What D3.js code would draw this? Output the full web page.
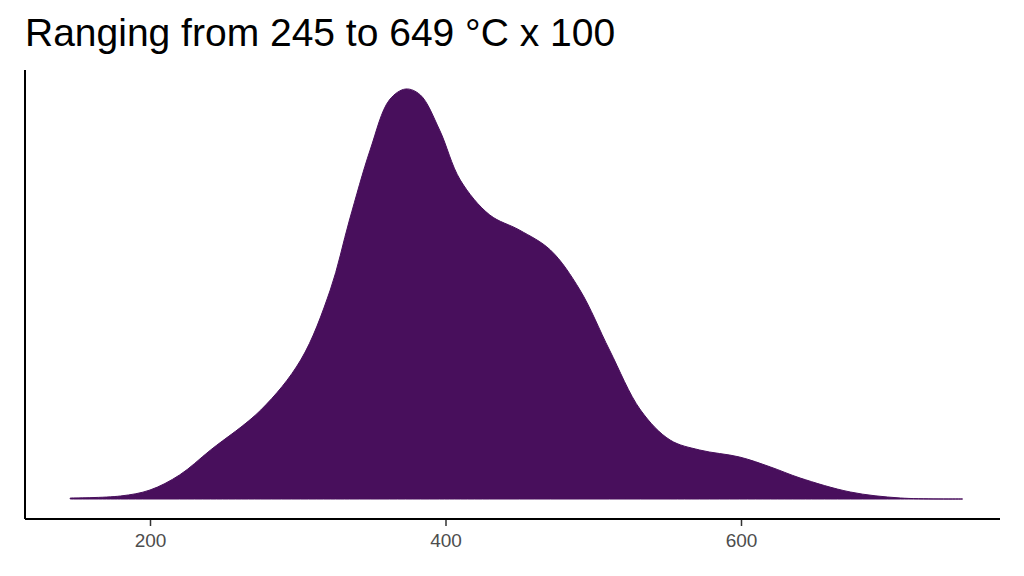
<!DOCTYPE html>
<html>
<head>
<meta charset="utf-8">
<script src="https://d3js.org/d3.v7.min.js"></script>
<style>
  body { margin: 0; background: #fff; }
  text { font-family: "Liberation Sans", Arial, sans-serif; }
</style>
</head>
<body>
<div id="chart"></div>
<script>
// density curve (x in °C x 100, y relative density)
var temps = [146, 180, 200, 220, 241, 275, 302, 322, 335, 349, 362, 373, 383, 396, 410, 430, 450, 471, 491, 511, 532, 552, 572, 599, 620, 640, 674, 708, 750];
var dens = [1, 3, 9, 24, 49, 89, 139, 209, 279, 349, 399, 410, 404, 369, 319, 284, 269, 249, 209, 149, 89, 59, 49, 42, 32, 21, 7, 1, 0];
var xTicks = [200, 400, 600];

var width = 1024, height = 576;
var svg = d3.select("#chart").append("svg")
  .attr("width", width).attr("height", height);

var x = d3.scaleLinear().domain([200, 600]).range([150, 741]);
var y = d3.scaleLinear().domain([0, 410]).range([499, 89]);

var pts = temps.map(function (t, i) { return [t, dens[i]]; });

svg.append("path")
  .datum(pts)
  .attr("fill", "#480f5c")
  .attr("stroke", "#480f5c")
  .attr("stroke-width", 1)
  .attr("d", d3.area()
    .x(function (d) { return x(d[0]); })
    .y0(y(0))
    .y1(function (d) { return y(d[1]); })
    .curve(d3.curveCatmullRom));

// axes
var xAxis = svg.append("g")
  .attr("transform", "translate(0,519)")
  .call(d3.axisBottom(x).tickValues(xTicks).tickSize(7).tickPadding(8));
xAxis.attr("font-size", 19).attr("font-family", "Liberation Sans, Arial, sans-serif");
xAxis.select(".domain").remove();
xAxis.selectAll("line").attr("stroke", "#333").attr("stroke-width", 1.5);
xAxis.selectAll("text").attr("fill", "#4d4d4d");

svg.append("line").attr("x1", 25).attr("x2", 1000).attr("y1", 519).attr("y2", 519)
  .attr("stroke", "#000").attr("stroke-width", 2);
svg.append("line").attr("x1", 25).attr("x2", 25).attr("y1", 70).attr("y2", 519)
  .attr("stroke", "#000").attr("stroke-width", 2);

// title
svg.append("text")
  .attr("x", 25).attr("y", 46)
  .attr("font-size", 39)
  .attr("fill", "#000")
  .text("Ranging from 245 to 649 °C x 100");
</script>
</body>
</html>
